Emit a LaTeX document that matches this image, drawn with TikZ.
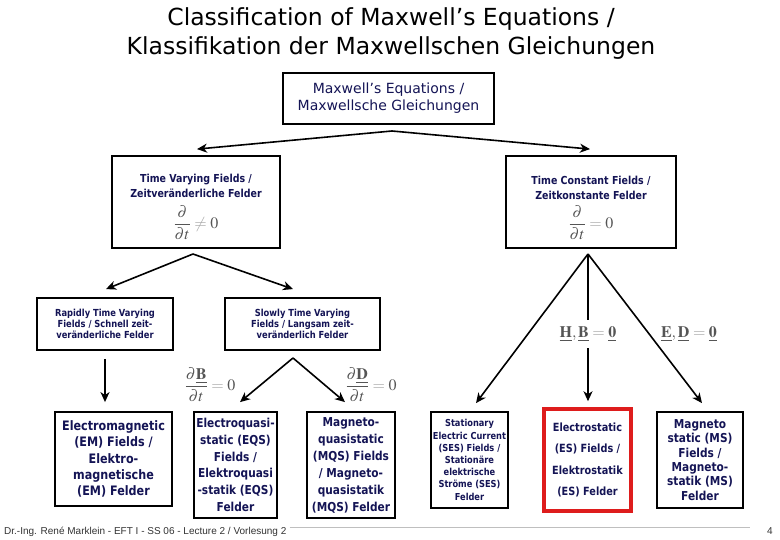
\documentclass[tikz,border=0pt]{standalone}
\usepackage{amsmath}
\usepackage{mathptmx}
\usepackage[no-math]{fontspec}
\setmainfont{DejaVu Sans}
\newfontfamily\bxf{DejaVu Sans}[FakeStretch=0.86]
\newfontfamily\ftf{Liberation Sans}
\usetikzlibrary{arrows.meta,calc}
\definecolor{navy}{RGB}{20,20,85}
\definecolor{mgray}{RGB}{85,85,85}
\definecolor{lgray}{RGB}{165,165,165}
\definecolor{esred}{RGB}{222,28,28}
\newcommand\lrel[1]{\mathrel{\textcolor{lgray}{#1}}}
\newcommand\mfs{\fontsize{16}{18}\selectfont}
\tikzset{
  box/.style={draw=black, line width=1.8pt, inner sep=0pt, align=center, text=navy},
  arr/.style={-{Stealth[length=10pt,width=9pt,inset=3pt]}, line width=1.6pt},
  mlabel/.style={text=mgray, inner sep=1pt},
}
\begin{document}
\begin{tikzpicture}[x=1pt,y=-1pt]
\fill[white] (0,0) rectangle (780,540);
\useasboundingbox (0,0) rectangle (780,540);

% title
\node[font=\fontsize{23.5}{29}\selectfont, align=center] (title) at (391,33.5)
  {Classification of Maxwell's Equations /\\Klassifikation der Maxwellschen Gleichungen};

% boxes
\node[box, minimum width=211pt, minimum height=51pt, font=\fontsize{14}{17}\selectfont] (top) at (388.5,98.5)
  {Maxwell's Equations /\\Maxwellsche Gleichungen};

\node[box, minimum width=168pt, minimum height=92pt, font=\bxf\bfseries\fontsize{11}{15}\selectfont] (tv) at (196,202)
  {\rule{0pt}{19pt}Time Varying Fields /\\Zeitveränderliche Felder\\[7pt]
   {\mfs\color{mgray}$\dfrac{\partial}{\partial t}\lrel{\neq} 0$}};
\node[box, minimum width=170pt, minimum height=92pt, font=\bxf\bfseries\fontsize{11}{15}\selectfont] (tc) at (591,202)
  {\rule{0pt}{21pt}Time Constant Fields /\\Zeitkonstante Felder\\[5pt]
   {\mfs\color{mgray}$\dfrac{\partial}{\partial t}\lrel{=} 0$}};

\node[box, minimum width=136pt, minimum height=52pt, font=\bxf\bfseries\fontsize{9.7}{11}\selectfont] (rapid) at (105,324)
  {Rapidly Time Varying\\Fields / Schnell zeit-\\veränderliche Felder};
\node[box, minimum width=155pt, minimum height=52pt, font=\bxf\bfseries\fontsize{9.7}{11}\selectfont] (slowly) at (302.5,324)
  {Slowly Time Varying\\Fields / Langsam zeit-\\veränderlich Felder};

\node[box, minimum width=117pt, minimum height=94pt, font=\bxf\bfseries\fontsize{13}{16.3}\selectfont] (em) at (113.5,459)
  {Electromagnetic\\(EM) Fields /\\Elektro-\\magnetische\\(EM) Felder};
\node[box, minimum width=83pt, minimum height=106pt, font=\bxf\bfseries\fontsize{12.3}{16.8}\selectfont] (eqs) at (235.5,465)
  {Electroquasi-\\static (EQS)\\Fields /\\Elektroquasi\\-statik (EQS)\\Felder};
\node[box, minimum width=88pt, minimum height=106pt, font=\bxf\bfseries\fontsize{12.3}{17}\selectfont] (mqs) at (351,465)
  {Magneto-\\quasistatic\\(MQS) Fields\\/ Magneto-\\quasistatik\\(MQS) Felder};
\node[box, minimum width=77pt, minimum height=96pt, font=\bxf\bfseries\fontsize{9.6}{12.2}\selectfont] (ses) at (469.5,460)
  {Stationary\\Electric Current\\(SES) Fields /\\Stationäre\\elektrische\\Ströme (SES)\\Felder};
\node[box, draw=esred, line width=3.5pt, minimum width=87pt, minimum height=102pt, font=\bxf\bfseries\fontsize{11.3}{21.3}\selectfont] (es) at (587.5,460)
  {Electrostatic\\(ES) Fields /\\Elektrostatik\\(ES) Felder};
\node[box, minimum width=86pt, minimum height=96pt, font=\bxf\bfseries\fontsize{12.3}{14.4}\selectfont] (ms) at (700,460)
  {Magneto\\static (MS)\\Fields /\\Magneto-\\statik (MS)\\Felder};

% branching points
\coordinate (topA) at (392,131);
\coordinate (tvA) at (193,254);
\coordinate (tcA) at (588,254);
\coordinate (slA) at (293,358);

% connectors
\draw[arr] (topA) -- ($(tv.north)+(1,-6)$);
\draw[arr] (topA) -- ($(tc.north)+(-1,-6)$);
\draw[arr] (tvA) -- ($(rapid.north)+(1,-8)$);
\draw[arr] (tvA) -- ($(slowly.north)+(-9.5,-8)$);
\draw[arr] ($(rapid.south)+(0,8)$) -- ($(rapid.south |- em.north)+(0,-9)$);
\draw[arr] (slA) -- ($(eqs.north)+(4.5,-9)$);
\draw[arr] (slA) -- ($(mqs.north)+(-6,-9)$);
\draw[arr] (tcA) -- ($(ses.north)+(6.5,-8)$);
\draw[arr] (tcA) -- ($(es.north)+(0.5,-6)$);
\draw[arr] (tcA) -- ($(ms.north)+(2,-8)$);

% math labels
\node[mlabel, font=\mfs] (dB) at (210,385) {$\dfrac{\partial\underline{\mathbf{B}}}{\partial t}\lrel{=}0$};
\node[mlabel, font=\mfs] (dD) at (371,385) {$\dfrac{\partial\underline{\mathbf{D}}}{\partial t}\lrel{=}0$};
\node[mlabel, font=\mfs, fill=white, inner ysep=7pt] (HB) at (588,334)
  {$\underline{\mathbf{H}},\underline{\mathbf{B}}\lrel{=}\underline{\mathbf{0}}$};
\node[mlabel, font=\mfs, fill=white] (ED) at (689,334)
  {$\underline{\mathbf{E}},\underline{\mathbf{D}}\lrel{=}\underline{\mathbf{0}}$};

% footer
\node[anchor=west, inner sep=0pt, font=\ftf\fontsize{10}{12}\selectfont, text=black!80] (foot) at (4,532)
  {Dr.-Ing. René Marklein - EFT I - SS 06 - Lecture 2 / Vorlesung 2};
\coordinate (lineEnd) at (750,527);
\draw[black!25, line width=0.8pt] ($(foot.east |- lineEnd)+(3,0)$) -- (lineEnd);
\node[font=\ftf\fontsize{10}{12}\selectfont, text=black!80] (pg) at (770,531) {4};
\end{tikzpicture}
\end{document}
